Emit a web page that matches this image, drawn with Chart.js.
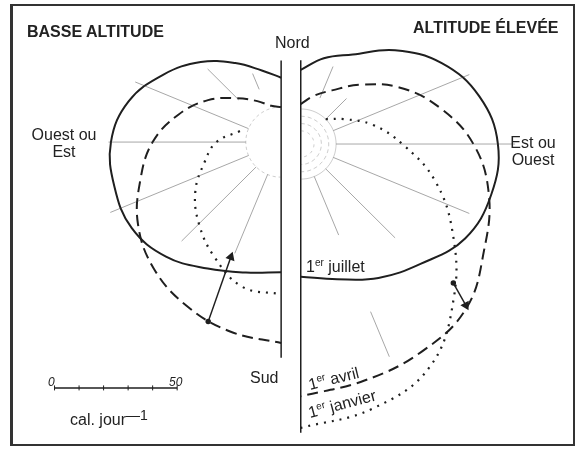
<!DOCTYPE html>
<html lang="fr">
<head>
<meta charset="utf-8">
<script src="https://cdn.jsdelivr.net/npm/chart.js@4.4.0/dist/chart.umd.min.js"></script>
<style>
  html, body { margin: 0; padding: 0; background: #fff; }
  #wrap { position: relative; width: 576px; height: 450px; font-family: "Liberation Sans", Arial, sans-serif; color: #222; }
  #chart { position: absolute; left: 0; top: 0; }
  #frame { position: absolute; left: 10px; top: 4px; width: 560px; height: 438px; border: 2px solid #333; border-left-width: 3px; }
  .lbl { position: absolute; font-size: 16px; line-height: 17px; white-space: nowrap; }
  .bold { font-weight: bold; }
  .center { text-align: center; width: 100px; }
  sup { font-size: 10px; vertical-align: 6px; line-height: 0; }
  .small { font-size: 12px; font-style: italic; }
</style>
</head>
<body>
<div id="wrap">
  <canvas id="chart" width="576" height="450"></canvas>
  <div id="frame"></div>
  <div class="lbl bold" style="left:27px; top:23px;">BASSE ALTITUDE</div>
  <div class="lbl bold" style="left:413px; top:19px;">ALTITUDE ÉLEVÉE</div>
  <div class="lbl" style="left:275px; top:34px;">Nord</div>
  <div class="lbl" style="left:250px; top:369px;">Sud</div>
  <div class="lbl center" style="left:14px; top:126px;">Ouest ou<br>Est</div>
  <div class="lbl center" style="left:483px; top:134px;">Est ou<br>Ouest</div>
  <div class="lbl" style="left:306px; top:258px;">1<sup>er</sup> juillet</div>
  <div class="lbl" style="left:310px; top:376px; transform: rotate(-14deg); transform-origin: 0 14px;">1<sup>er</sup> avril</div>
  <div class="lbl" style="left:310px; top:404px; transform: rotate(-15deg); transform-origin: 0 14px;">1<sup>er</sup> janvier</div>
  <div class="lbl small" style="left:48px; top:374px;">0</div>
  <div class="lbl small" style="left:169px; top:374px;">50</div>
  <div class="lbl" style="left:70px; top:411px;">cal. jour<sup style="font-size:14px; vertical-align:5px;">—1</sup></div>
</div>
<script>
// orientation de la pente, en degrés depuis le Nord
const ORIENTS = [0, 15, 30, 45, 60, 75, 90, 105, 120, 135, 150, 165, 180];

// rayonnement reçu (cal. jour-1), basse altitude
const lowJuillet = [12, 16, 23, 32, 41, 50, 55, 56, 56, 52, 45.5, 41, 39];
const lowAvril   = [0, 1, 5, 11, 20, 29, 38, 45, 53, 59, 63, 66, 68];
const lowJanvier = [null, null, null, null, null, 3, 12, 18, 26, 33, 40, 47, 48];

// altitude élevée
const highJuillet = [16, 22, 28, 40, 52, 61, 66, 66, 63, 55, 49, 43, 40];
const highAvril   = [2, 6, 11, 20, 32, 44, 56, 65, 72, 81, 84, 86, 89];
const highJanvier = [null, null, null, 0, 6, 16, 27, 42, 57, 74, 91, 98, 102];

// rayons (orientations de la rose des vents)
const lowSpokeAngles  = [22.5, 45, 67.5, 90, 112.5, 135, 157.5];
const lowSpokeFrom    = [9, 10, 0, 0, 0, 0, 0];
const lowSpokeTo      = [16, 28, 50, 56, 61, 43, 35];
const highSpokeAngles = [22.5, 45, 67.5, 90, 112.5, 135, 157.5, 157.5];
const highSpokeFrom   = [6, 0, 0, 0, 0, 0, 0, 60];
const highSpokeTo     = [20, 12, 60, 73, 60, 40, 26, 80];

// flèches
const lowArrowAngles  = [158, 156.5];
const lowArrowValues  = [65, 37];
const highArrowAngles = [132.5, 134.5];
const highArrowValues = [70, 80];

// axe Nord-Sud (étendue en cal.)
const lowAxis  = [19, 74];
const highAxis = [20, 104];

// échelle
const scaleTicks = [0, 10, 20, 30, 40, 50];

const K = 2.5;              // px par cal. jour-1
const R0 = 36 / K;          // cercle intérieur = zéro
const LOW = { x: 0, y: 0, side: -1 };
const HIGH = { x: 8, y: -0.8, side: 1 };
const INK = '#1f1f1f';
const FAINT = 'rgba(60,60,60,0.45)';

function polar(c, angle, v) {
    const r = R0 + v;
    const a = angle * Math.PI / 180;
    return { x: c.x + c.side * r * Math.sin(a), y: c.y + r * Math.cos(a) };
}

function curve(c, values) {
    const pts = [];
    values.forEach((v, i) => {
        if (v !== null) pts.push(polar(c, ORIENTS[i], v));
    });
    return pts;
}

function lineSet(data, opts) {
    return Object.assign({
        data: data,
        showLine: true,
        borderColor: INK,
        borderWidth: 2,
        pointRadius: 0,
        fill: false,
        tension: 0
    }, opts);
}

const datasets = [];

// cercles intérieurs
const ringAngles = [];
for (let a = 0; a <= 180; a += 10) ringAngles.push(a);
[[LOW, 0, [3, 3]], [HIGH, 0, []], [HIGH, -3, [4, 3]], [HIGH, -6, [4, 3]], [HIGH, -9, [3, 4]]].forEach(([c, v, dash]) => {
    datasets.push(lineSet(ringAngles.map(a => polar(c, a, v)), {
        borderColor: 'rgba(90,90,90,0.3)', borderWidth: 1, borderDash: dash, tension: 0.4
    }));
});

// rayons
lowSpokeAngles.forEach((a, i) => {
    datasets.push(lineSet([polar(LOW, a, lowSpokeFrom[i]), polar(LOW, a, lowSpokeTo[i])],
        { borderColor: FAINT, borderWidth: 1 }));
});
highSpokeAngles.forEach((a, i) => {
    datasets.push(lineSet([polar(HIGH, a, highSpokeFrom[i]), polar(HIGH, a, highSpokeTo[i])],
        { borderColor: FAINT, borderWidth: 1 }));
});

// axes Nord-Sud
datasets.push(lineSet([polar(LOW, 0, lowAxis[0]), polar(LOW, 180, lowAxis[1])], { borderWidth: 1.5 }));
datasets.push(lineSet([polar(HIGH, 0, highAxis[0]), polar(HIGH, 180, highAxis[1])], { borderWidth: 1.5 }));

// courbes
datasets.push(lineSet(curve(LOW, lowJuillet), { tension: 0.4 }));
datasets.push(lineSet(curve(LOW, lowAvril), { tension: 0.4, borderDash: [11, 6] }));
datasets.push(lineSet(curve(LOW, lowJanvier), { tension: 0.4, borderDash: [2, 6], borderWidth: 2.2 }));
datasets.push(lineSet(curve(HIGH, highJuillet), { tension: 0.4 }));
datasets.push(lineSet(curve(HIGH, highAvril), { tension: 0.4, borderDash: [11, 6] }));
datasets.push(lineSet(curve(HIGH, highJanvier), { tension: 0.4, borderDash: [2, 6], borderWidth: 2.2 }));

// flèches
function arrow(c, angles, values) {
    const p = angles.map((a, i) => polar(c, a, values[i]));
    const dx = p[1].x - p[0].x, dy = -(p[1].y - p[0].y);
    const rot = Math.atan2(dx, -dy) * 180 / Math.PI;
    return lineSet(p, {
        borderWidth: 1.5,
        pointRadius: [2, 4],
        pointStyle: ['circle', 'triangle'],
        pointRotation: [0, rot],
        pointBackgroundColor: INK,
        pointBorderColor: INK
    });
}
datasets.push(arrow(LOW, lowArrowAngles, lowArrowValues));
datasets.push(arrow(HIGH, highArrowAngles, highArrowValues));

// barre d'échelle
const SB = { x: -92.4, y: -100.8 };
datasets.push(lineSet(scaleTicks.map(t => ({ x: SB.x + t, y: SB.y })), {
    borderWidth: 1.5,
    pointRadius: 2.5,
    pointStyle: 'line',
    pointRotation: 90,
    pointBorderColor: INK,
    pointBorderWidth: 1
}));

new Chart(document.getElementById('chart').getContext('2d'), {
    type: 'scatter',
    data: { datasets: datasets },
    options: {
        responsive: false,
        animation: false,
        layout: { padding: 0 },
        plugins: { legend: { display: false }, tooltip: { enabled: false } },
        scales: {
            x: { type: 'linear', display: false, min: -112.4, max: 118 },
            y: { type: 'linear', display: false, min: -124, max: 56 }
        }
    }
});
</script>
</body>
</html>
